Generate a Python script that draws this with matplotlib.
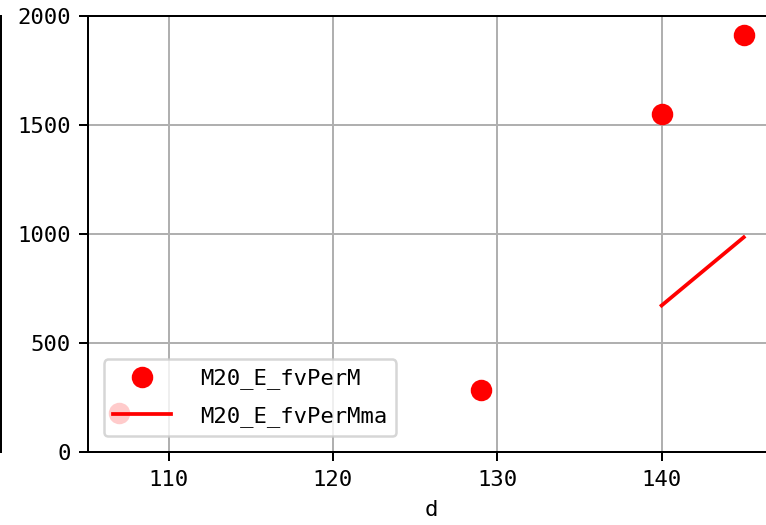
import matplotlib
matplotlib.use("Agg")
import matplotlib.pyplot as plt
from matplotlib.lines import Line2D
import numpy as np

x_days = [107, 129, 140, 145]
fv_per_m = [180, 285, 1550, 1915]
fv_per_m_ma = [np.nan, np.nan, 672, 985]
xticks = [110, 120, 130, 140]
yticks = [0, 500, 1000, 1500, 2000]

DPI = 180
plt.rcParams['font.family'] = ['DejaVu Sans Mono']
plt.rcParams['font.size'] = 8.9

fig = plt.figure(figsize=(766 / DPI, 525 / DPI), dpi=DPI)
W, H = 766, 525
ax = fig.add_axes([88 / W, (H - 452) / H, (775 - 88) / W, (452 - 16) / H])

ax.plot(x_days, fv_per_m, 'o', color='red', markersize=7.6, label='M20_E_fvPerM')
ax.plot(x_days, fv_per_m_ma, '-', color='red', linewidth=1.5, label='M20_E_fvPerMma')

ax.set_xlim(105.1, 146.9)
ax.set_ylim(0, 2000)
ax.set_xticks(xticks)
ax.set_yticks(yticks)
ax.grid(True)
ax.set_xlabel('d')
ax.spines['right'].set_visible(True)

ax.legend(loc='lower left', handlelength=2.6, handletextpad=1.3, borderaxespad=0.7,
          labelspacing=0.75, borderpad=0.42)

fig.add_artist(Line2D([1 / W, 1 / W], [(H - 452) / H, (H - 16) / H], color='black', linewidth=0.8, transform=fig.transFigure))

fig.savefig('out.png', dpi=DPI)
